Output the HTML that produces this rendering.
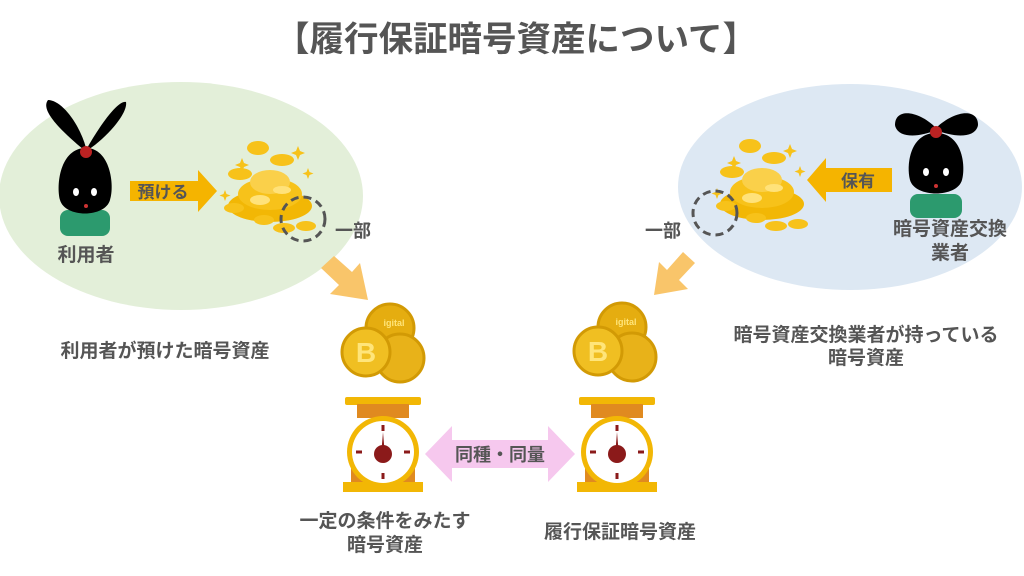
<!DOCTYPE html>
<html><head><meta charset="utf-8"><style>
html,body{margin:0;padding:0;background:#fff;}
svg{display:block;}
text{font-family:"Liberation Sans","Noto Sans CJK JP",sans-serif;font-weight:bold;fill:#555;}
</style></head><body>
<svg width="1024" height="576" viewBox="0 0 1024 576" xmlns="http://www.w3.org/2000/svg">
<defs>
  <g id="pile">
    <ellipse cx="0" cy="10" rx="42" ry="16" fill="#f2b705"/>
    <ellipse cx="0" cy="-2" rx="32" ry="16" fill="#f7c21a"/>
    <ellipse cx="0" cy="-14" rx="20" ry="12" fill="#fad04a"/>
    <ellipse cx="-10" cy="4" rx="10" ry="5" fill="#ffe27a"/>
    <ellipse cx="12" cy="-6" rx="9" ry="4" fill="#ffe27a"/>
    <ellipse cx="-30" cy="-22" rx="12" ry="6" fill="#f7c21a"/>
    <ellipse cx="-12" cy="-48" rx="11" ry="7" fill="#f7c21a"/>
    <ellipse cx="12" cy="-36" rx="12" ry="6" fill="#f7c21a"/>
    <ellipse cx="-36" cy="12" rx="10" ry="5" fill="#f7c21a"/>
    <ellipse cx="14" cy="32" rx="11" ry="5" fill="#f7c21a"/>
    <ellipse cx="36" cy="30" rx="10" ry="5" fill="#f7c21a"/>
    <ellipse cx="-6" cy="24" rx="10" ry="5" fill="#f7c21a"/>
    <path d="M28,-50 l2,5 5,2 -5,2 -2,5 -2,-5 -5,-2 5,-2z" fill="#f7c21a"/>
    <path d="M-28,-38 l2,5 5,2 -5,2 -2,5 -2,-5 -5,-2 5,-2z" fill="#f7c21a"/>
    <path d="M38,-28 l1.5,4 4,1.5 -4,1.5 -1.5,4 -1.5,-4 -4,-1.5 4,-1.5z" fill="#f7c21a"/>
    <path d="M-45,-6 l1.5,4 4,1.5 -4,1.5 -1.5,4 -1.5,-4 -4,-1.5 4,-1.5z" fill="#f7c21a"/>
  </g>
  <g id="stack">
    <circle cx="12" cy="-18" r="24" fill="#e5ad10" stroke="#d29a05" stroke-width="3"/>
    <circle cx="22" cy="12" r="24" fill="#e8b219" stroke="#d29a05" stroke-width="3"/>
    <circle cx="-12" cy="6" r="24" fill="#f0bf22" stroke="#d29a05" stroke-width="3"/>
    <text x="-12" y="16" font-size="28" text-anchor="middle" style="fill:#ffe57a">B</text>
    <text x="16" y="-20" font-size="9" text-anchor="middle" style="fill:#ffe57a">igital</text>
  </g>
  <g id="scale">
    <rect x="-38" y="-55" width="76" height="8" rx="2" fill="#f2b705"/>
    <rect x="-26" y="-48" width="52" height="14" fill="#e08a20"/>
    <rect x="-32" y="-10" width="64" height="40" fill="#e08a20"/>
    <rect x="-40" y="30" width="80" height="10" fill="#f2b705"/>
    <circle cx="0" cy="0" r="36" fill="#f2b705"/>
    <circle cx="0" cy="0" r="31" fill="#fff"/>
    <rect x="-1.5" y="-27" width="3" height="6" fill="#8b1a1a"/>
    <rect x="-1.5" y="21" width="3" height="6" fill="#8b1a1a"/>
    <rect x="-27" y="-1.5" width="6" height="3" fill="#8b1a1a"/>
    <rect x="21" y="-1.5" width="6" height="3" fill="#8b1a1a"/>
    <path d="M-1.5,-2 L0,-20 L1.5,-2z" fill="#8b1a1a"/>
    <circle cx="0" cy="2" r="9" fill="#8b1a1a"/>
  </g>
</defs>

<text x="516" y="51" font-size="34.5" text-anchor="middle">【履行保証暗号資産について】</text>

<ellipse cx="181" cy="196" rx="182" ry="114" fill="#e3efd9"/>
<path d="M84,150 C60,130 40,110 48,100 C62,100 80,125 86,148z" fill="#000"/>
<path d="M86,150 C100,125 118,100 126,102 C128,112 110,135 88,150z" fill="#000"/>
<rect x="60" y="210" width="50" height="26" rx="8" fill="#2c9a6e"/>
<path d="M86,148 C60,148 56,185 60,200 C65,218 105,218 110,200 C115,185 110,148 86,148z" fill="#000"/>
<circle cx="86" cy="152" r="6" fill="#b22"/>
<ellipse cx="76" cy="192" rx="3" ry="4" fill="#fff"/>
<ellipse cx="94" cy="192" rx="3" ry="4" fill="#fff"/>
<circle cx="86" cy="206" r="2" fill="#c33"/>
<text x="86" y="261" font-size="19" text-anchor="middle">利用者</text>
<path d="M130,181 H198 V170 L217,191 L198,212 V201 H130z" fill="#f5b400"/>
<text x="163" y="198" font-size="17" text-anchor="middle">預ける</text>
<use href="#pile" x="270" y="196"/>
<circle cx="303" cy="219" r="22" fill="none" stroke="#555" stroke-width="3" stroke-dasharray="8,5"/>
<text x="353" y="237" font-size="18" text-anchor="middle">一部</text>
<path d="M334,256 L352,272 L360,263 L368,300 L330,294 L339,285 L321,268z" fill="#f9c56a"/>
<text x="165" y="357" font-size="19" text-anchor="middle">利用者が預けた暗号資産</text>

<ellipse cx="850" cy="187" rx="172" ry="103" fill="#dde8f3"/>
<path d="M936,128 C918,110 895,108 895,125 C897,138 918,138 936,130z" fill="#000"/>
<path d="M936,128 C955,110 978,108 978,125 C976,138 955,138 936,130z" fill="#000"/>
<rect x="910" y="194" width="52" height="24" rx="8" fill="#2c9a6e"/>
<path d="M936,133 C910,133 906,165 910,180 C915,198 957,198 962,180 C966,165 962,133 936,133z" fill="#000"/>
<circle cx="936" cy="132" r="6" fill="#b22"/>
<ellipse cx="926" cy="172" rx="3" ry="4" fill="#fff"/>
<ellipse cx="946" cy="172" rx="3" ry="4" fill="#fff"/>
<circle cx="936" cy="186" r="2" fill="#c33"/>
<text x="950" y="235" font-size="19" text-anchor="middle">暗号資産交換</text>
<text x="950" y="259" font-size="19" text-anchor="middle">業者</text>
<path d="M892,168 H826 V158 L807,180 L826,202 V192 H892z" fill="#f5b400"/>
<text x="858" y="187" font-size="17" text-anchor="middle">保有</text>
<use href="#pile" x="762" y="194"/>
<circle cx="715" cy="213" r="22" fill="none" stroke="#555" stroke-width="3" stroke-dasharray="8,5"/>
<text x="663" y="237" font-size="18" text-anchor="middle">一部</text>
<path d="M683,252 L667,270 L659,262 L654,295 L688,289 L679,280 L695,263z" fill="#f9c56a"/>
<text x="866" y="341" font-size="19" text-anchor="middle">暗号資産交換業者が持っている</text>
<text x="866" y="364" font-size="19" text-anchor="middle">暗号資産</text>

<use href="#stack" x="378" y="346"/>
<use href="#stack" x="610" y="345"/>
<use href="#scale" x="383" y="452"/>
<use href="#scale" x="617" y="452"/>
<path d="M425,454 L452,426 V440 H548 V426 L575,454 L548,482 V468 H452 V482z" fill="#f6c8ee"/>
<text x="500" y="461" font-size="18" text-anchor="middle">同種・同量</text>
<text x="385" y="527" font-size="19" text-anchor="middle">一定の条件をみたす</text>
<text x="385" y="551" font-size="19" text-anchor="middle">暗号資産</text>
<text x="620" y="538" font-size="19" text-anchor="middle">履行保証暗号資産</text>
</svg>
</body></html>
